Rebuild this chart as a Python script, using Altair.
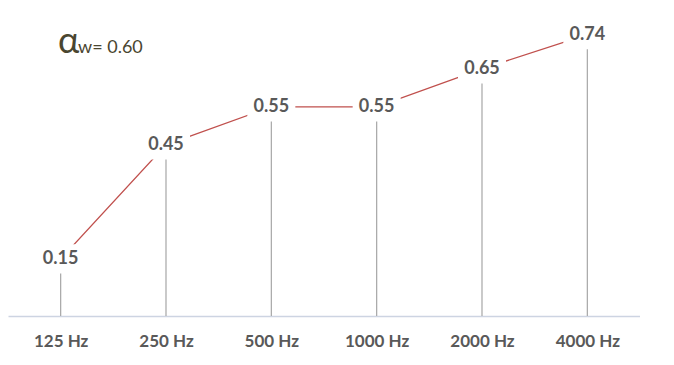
import altair as alt
import pandas as pd

freqs = ["125 Hz", "250 Hz", "500 Hz", "1000 Hz", "2000 Hz", "4000 Hz"]
values = [0.15, 0.45, 0.55, 0.55, 0.65, 0.74]
labels = ["0.15", "0.45", "0.55", "0.55", "0.65", "0.74"]

df = pd.DataFrame({"freq": freqs, "val": values, "lab": labels, "zero": [0.0] * len(freqs)})

FONT = "Lato"
xscale = alt.Scale(type="point", padding=0.5, domain=freqs)
yscale = alt.Scale(domain=[0, 0.81], nice=False, zero=True)

X = alt.X("freq:N", scale=xscale, sort=freqs,
          axis=alt.Axis(title=None, ticks=False, grid=False, domainColor="#cdd4e2",
                        domainWidth=1.5, labelFont=FONT, labelFontSize=17,
                        labelFontWeight="bold", labelColor="#595959",
                        labelPadding=17, labelAngle=0))
Y = alt.Y("val:Q", scale=yscale, axis=None)

base = alt.Chart(df)

line = base.mark_line(color="#c0504d", strokeWidth=1.3).encode(x=X, y=Y)
drops = base.mark_rule(color="#a6a6a6", strokeWidth=1.2).encode(x=X, y=Y, y2="zero:Q")
boxes = base.mark_point(
    shape="M-1,-0.61L1,-0.61L1,0.61L-1,0.61Z",
    filled=True, fill="white", fillOpacity=1, opacity=1, strokeWidth=0, size=2304,
).encode(x=X, y=Y)
texts = base.mark_text(font=FONT, fontSize=18, fontWeight="bold", color="#595959",
                       baseline="middle", align="center").encode(x=X, y=Y, text="lab:N")

alpha = alt.Chart(pd.DataFrame({"t": ["α"]})).mark_text(
    font=FONT, fontSize=36, color="#4a4630", align="left", baseline="alphabetic"
).encode(x=alt.value(50), y=alt.value(45), text="t:N")
sub = alt.Chart(pd.DataFrame({"t": ["w= 0.60"]})).mark_text(
    font=FONT, fontSize=18, color="#4a4630", align="left", baseline="alphabetic"
).encode(x=alt.value(70), y=alt.value(45), text="t:N")

chart = alt.layer(line, drops, boxes, texts, alpha, sub).properties(
    width=632, height=308, padding=0
).configure_view(stroke=None)

chart.save("out.html", embed_options={"renderer": "svg", "actions": False})
